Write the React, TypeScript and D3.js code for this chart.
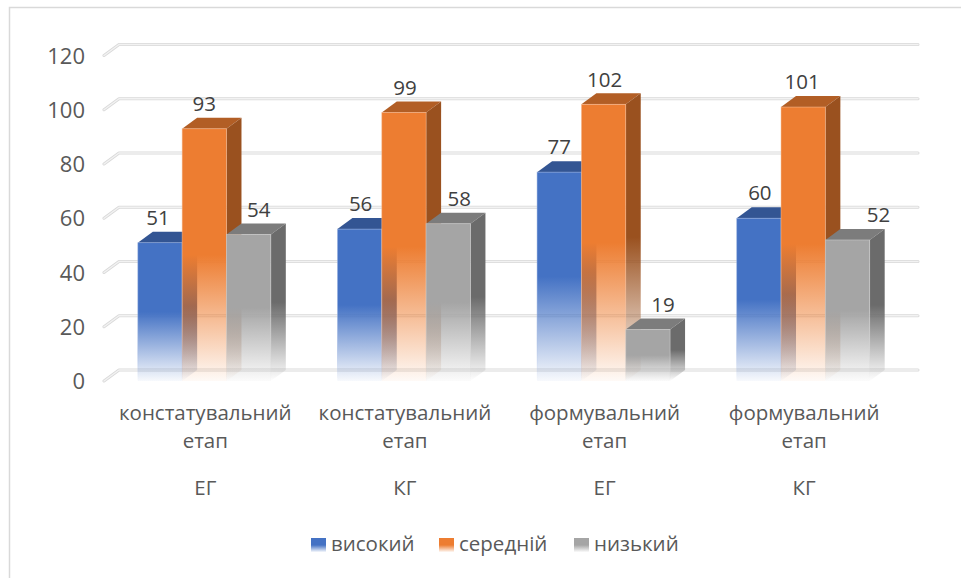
import * as d3 from "d3";

const categories = ["констатувальний|етап|ЕГ", "констатувальний|етап|КГ", "формувальний|етап|ЕГ", "формувальний|етап|КГ"];
const seriesNames = ["високий", "середній", "низький"];
const vysokyi = [51, 56, 77, 60];
const serednii = [93, 99, 102, 101];
const nyzkyi = [54, 58, 19, 52];
const yTicks = [0, 20, 40, 60, 80, 100, 120];

const frontColors = ["#4472c4", "#ed7d31", "#a5a5a5"];
const topColors = ["#335593", "#b25e25", "#7c7c7c"];
const sideColors = ["#2c4a80", "#9a511f", "#6b6b6b"];
const edgeColors = ["#9db4e0", "#f6bd98", "#d2d2d2"];

// the labels were moved by hand in the original chart
const labelNudgeX = [
  [-2, 0, 10],
  [1, 1, 11],
  [0, 1, 15],
  [1, -1, 31],
];

const width = 961;
const height = 578;
const depthX = 15;
const depthY = 11;

const App = () => {
  const values = [vysokyi, serednii, nyzkyi];
  const y = d3.scaleLinear().domain([0, 120]).range([381, 55.5]);
  const x0 = d3.scaleBand().domain(categories).range([104.5, 903]);
  const x1 = d3.scaleBand().domain(seriesNames).range([0, 133]);
  const font = "'Open Sans', sans-serif";

  return (
    <svg
      width={width}
      height={height}
      style={{ position: "absolute", left: 0, top: 0, display: "block" }}
    >
      <defs>
        {frontColors.map((c, i) => (
          <linearGradient key={c} id={`front${i}`} x1="0" y1="0" x2="0" y2="1">
            <stop offset="0.5" stopColor={c} />
            <stop offset="1" stopColor={c} stopOpacity={0.04} />
          </linearGradient>
        ))}
        {sideColors.map((c, i) => (
          <linearGradient key={c} id={`side${i}`} x1="0" y1="0" x2="0" y2="1">
            <stop offset="0.5" stopColor={c} />
            <stop offset="1" stopColor={c} stopOpacity={0} />
          </linearGradient>
        ))}
        {edgeColors.map((c, i) => (
          <linearGradient key={c} id={`edge${i}`} x1="0" y1="0" x2="0" y2="1">
            <stop offset="0.8" stopColor={c} stopOpacity={0.6} />
            <stop offset="1" stopColor={c} stopOpacity={0} />
          </linearGradient>
        ))}
        {frontColors.map((c, i) => (
          <linearGradient key={c} id={`swatch${i}`} x1="0" y1="0" x2="0" y2="1">
            <stop offset="0.5" stopColor={c} />
            <stop offset="1" stopColor={c} stopOpacity={0.05} />
          </linearGradient>
        ))}
      </defs>

      <rect x={0} y={0} width={width} height={height} fill="#ffffff" />
      <path d={`M9.5,${height}V7.5H${width}`} fill="none" stroke="#d9d9d9" strokeWidth={1.5} />

      {yTicks.map((t) => {
        const line = `M104,${y(t)}L${104 + depthX},${y(t) - depthY}H918`;
        return (
          <g key={t} fill="none" strokeLinejoin="round" strokeLinecap="round">
            <path d={line} stroke="#d9d9d9" strokeWidth={3} />
            <path d={line} stroke="#f2f2f2" strokeWidth={1.4} />
          </g>
        );
      })}

      {yTicks.map((t) => (
        <text
          key={t}
          x={85}
          y={y(t) + 0.5}
          dy="0.35em"
          textAnchor="end"
          fontFamily={font}
          fontSize={22}
          fill="#595959"
        >
          {t}
        </text>
      ))}

      {categories.map((cat, c) => {
        const gx = x0(cat)! + (x0.bandwidth() - 133) / 2;
        return (
          <g key={cat}>
            {seriesNames.map((name, s) => {
              const left = gx + x1(name)!;
              const right = left + x1.bandwidth();
              const top = y(values[s][c]);
              const base = y(0);
              return (
                <g key={name}>
                  <path
                    d={`M${left},${top}L${left + depthX},${top - depthY}H${right + depthX}L${right},${top}Z`}
                    fill={topColors[s]}
                  />
                  <path
                    d={`M${right},${top}L${right + depthX},${top - depthY}V${base - depthY}L${right},${base}Z`}
                    fill={`url(#side${s})`}
                  />
                  <rect
                    x={left}
                    y={top}
                    width={x1.bandwidth()}
                    height={base - top}
                    fill={`url(#front${s})`}
                    stroke={`url(#edge${s})`}
                    strokeWidth={0.8}
                  />
                </g>
              );
            })}
          </g>
        );
      })}

      {categories.map((cat, c) => {
        const gx = x0(cat)! + (x0.bandwidth() - 133) / 2;
        return seriesNames.map((name, s) => (
          <text
            key={`${cat}-${name}`}
            x={gx + x1(name)! + x1.bandwidth() / 2 + labelNudgeX[c][s]}
            y={y(values[s][c]) - 25}
            dy="0.35em"
            textAnchor="middle"
            fontFamily={font}
            fontSize={20.5}
            fill="#404040"
          >
            {values[s][c]}
          </text>
        ));
      })}

      {categories.map((cat) => {
        const [l1, l2, l3] = cat.split("|");
        const cx = x0(cat)! + x0.bandwidth() / 2 + 1;
        return (
          <g key={cat} textAnchor="middle" fontFamily={font} fontSize={20.5} fill="#595959">
            <text x={cx} y={420}>{l1}</text>
            <text x={cx} y={448}>{l2}</text>
            <text x={cx} y={495}>{l3}</text>
          </g>
        );
      })}

      {seriesNames.map((name, s) => {
        const lx = d3.scaleOrdinal<string, number>().domain(seriesNames).range([311, 439, 574])(name);
        return (
          <g key={name}>
            <rect x={lx} y={538} width={15} height={14} fill={`url(#swatch${s})`} />
            <text x={lx + 20} y={551} fontFamily={font} fontSize={20.5} fill="#595959">
              {name}
            </text>
          </g>
        );
      })}
    </svg>
  );
};

export default App;
